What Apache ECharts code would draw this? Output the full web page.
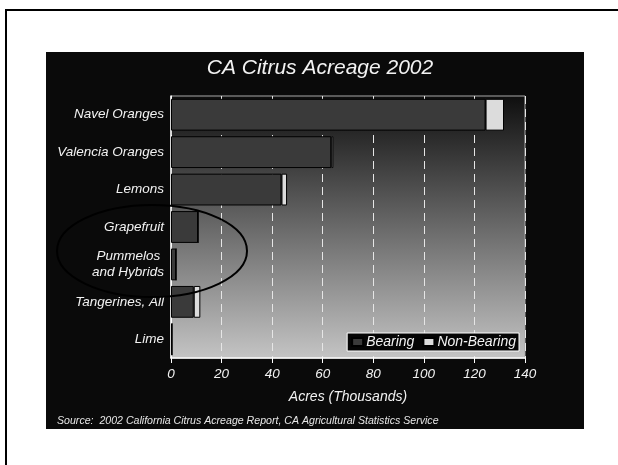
<!DOCTYPE html>
<html>
<head>
<meta charset="utf-8">
<script src="https://cdn.jsdelivr.net/npm/echarts@6/dist/echarts.min.js"></script>
<style>
  html, body { margin: 0; padding: 0; background: #fff; }
  #chart { width: 618px; height: 465px; }
</style>
</head>
<body>
<div id="chart"></div>
<script>
// California citrus acreage, 2002 (thousand acres)
const categories = [
  'Navel Oranges',
  'Valencia Oranges',
  'Lemons',
  'Grapefruit',
  'Pummelos \nand Hybrids',
  'Tangerines, All',
  'Lime'
];
const bearing    = [124.4, 63.4, 43.7, 10.7, 2.0, 9.0, 0.4];
const nonBearing = [7.3,   0.8,  2.2,  0.0,  0.0, 2.6, 0.0];
const xTicks = { min: 0, max: 140, interval: 20 };

const FONT = '"Liberation Sans", Arial, sans-serif';
const TXT = '#f2f2f2';

const chart = echarts.init(document.getElementById('chart'), null, { renderer: 'canvas' });

chart.setOption({
  backgroundColor: '#ffffff',
  animation: false,
  textStyle: { fontFamily: FONT },
  title: {
    text: 'CA Citrus Acreage 2002',
    left: 315,
    textAlign: 'center',
    top: 53,
    textStyle: { color: TXT, fontSize: 21, fontStyle: 'italic', fontWeight: 'normal', fontFamily: FONT }
  },
  legend: {
    data: ['Bearing', 'Non-Bearing'],
    right: 99,
    top: 333,
    orient: 'horizontal',
    backgroundColor: '#050505',
    borderColor: '#ffffff',
    borderWidth: 1,
    borderRadius: 0,
    padding: [2, 3, 2, 4],
    itemWidth: 11,
    itemHeight: 8,
    itemGap: 8,
    icon: 'rect',
    textStyle: { color: TXT, fontSize: 14, fontStyle: 'italic', fontFamily: FONT, padding: [0, 0, 0, -2] }
  },
  grid: {
    left: 171,
    right: 93,
    top: 96,
    bottom: 107,
    containLabel: false,
    show: true,
    borderColor: '#a8a8a8',
    borderWidth: 1,
    backgroundColor: new echarts.graphic.LinearGradient(0, 0, 0, 1, [
      { offset: 0, color: '#0e0e0e' },
      { offset: 1, color: '#c4c4c4' }
    ])
  },
  xAxis: {
    type: 'value',
    min: xTicks.min,
    max: xTicks.max,
    interval: xTicks.interval,
    name: 'Acres (Thousands)',
    nameLocation: 'middle',
    nameGap: 32,
    nameTextStyle: { color: TXT, fontSize: 14, fontStyle: 'italic', fontFamily: FONT },
    axisLine: { show: true, lineStyle: { color: '#ffffff', width: 1.5 } },
    axisTick: { show: true, length: 5, lineStyle: { color: '#ffffff' } },
    axisLabel: { color: TXT, fontSize: 13.5, fontStyle: 'italic', fontFamily: FONT, margin: 9 },
    splitLine: {
      show: true,
      lineStyle: { color: '#e6e6e6', width: 1, type: [8, 5] }
    }
  },
  yAxis: {
    type: 'category',
    data: categories,
    inverse: true,
    axisLine: { show: true, lineStyle: { color: '#ffffff', width: 1.5 } },
    axisTick: { show: false },
    axisLabel: {
      color: TXT, fontSize: 13.5, fontStyle: 'italic', fontFamily: FONT,
      margin: 7, align: 'right', lineHeight: 16
    },
    splitLine: { show: false }
  },
  series: [
    {
      name: 'Bearing',
      type: 'bar',
      stack: 'acres',
      data: bearing,
      barCategoryGap: '15%',
      itemStyle: { color: '#3a3a3a', borderColor: '#000000', borderWidth: 1 },
      z: 3
    },
    {
      name: 'Non-Bearing',
      type: 'bar',
      stack: 'acres',
      data: nonBearing,
      barCategoryGap: '15%',
      itemStyle: { color: '#dcdcdc', borderColor: '#000000', borderWidth: 1 },
      z: 3
    }
  ],
  graphic: [
    {
      type: 'rect',
      z: -10,
      silent: true,
      shape: { x: 6, y: 10, width: 700, height: 600 },
      style: { fill: '#ffffff', stroke: '#000000', lineWidth: 2 }
    },
    {
      type: 'rect',
      z: -9,
      silent: true,
      shape: { x: 46, y: 52, width: 538, height: 377 },
      style: { fill: '#0a0a0a' }
    },
    {
      type: 'text',
      z: 10,
      silent: true,
      left: 57,
      top: 416,
      style: {
        text: 'Source:  2002 California Citrus Acreage Report, CA Agricultural Statistics Service',
        fill: '#e6e6e6',
        font: 'italic 10.6px ' + FONT
      }
    },
    {
      type: 'ellipse',
      z: 100,
      silent: true,
      shape: { cx: 152, cy: 251, rx: 95, ry: 46 },
      style: { fill: 'none', stroke: '#000000', lineWidth: 2 }
    }
  ]
});
</script>
</body>
</html>
